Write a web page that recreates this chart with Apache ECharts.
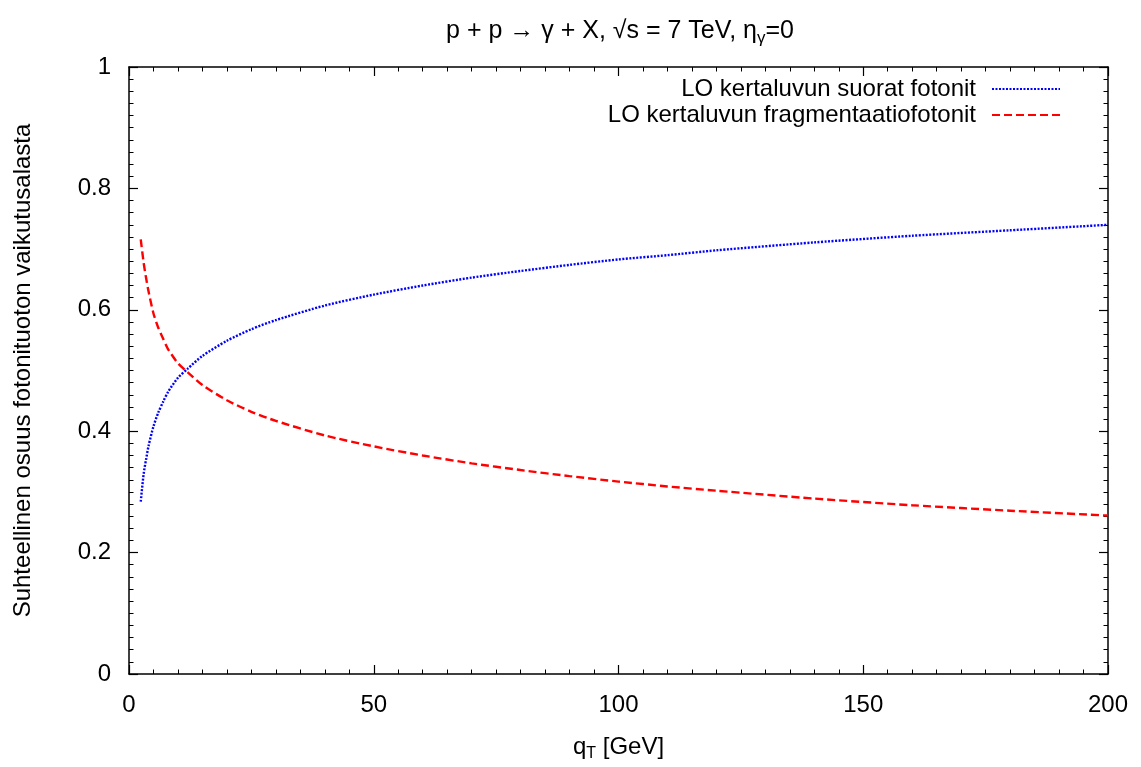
<!DOCTYPE html>
<html>
<head>
<meta charset="utf-8">
<script src="https://cdn.jsdelivr.net/npm/echarts@6/dist/echarts.min.js"></script>
<style>html,body{margin:0;padding:0;background:#fff;}#c{width:1141px;height:767px;}</style>
</head>
<body>
<div id="c"></div>
<script>
const qT = [2.4, 3, 3.5, 4, 5, 6, 7, 8, 10, 12, 15, 20, 25, 30, 40, 50, 60, 70, 80, 90, 100, 110, 120, 140, 160, 180, 200];
const direct = [0.284, 0.330, 0.354, 0.376, 0.408, 0.431, 0.449, 0.465, 0.488, 0.503, 0.524, 0.549, 0.568, 0.583, 0.607, 0.625, 0.640, 0.653, 0.664, 0.674, 0.683, 0.690, 0.698, 0.711, 0.722, 0.731, 0.740];
const frag = [0.716, 0.677, 0.652, 0.630, 0.594, 0.570, 0.552, 0.535, 0.512, 0.497, 0.476, 0.451, 0.432, 0.417, 0.393, 0.375, 0.360, 0.347, 0.336, 0.326, 0.317, 0.309, 0.302, 0.289, 0.278, 0.269, 0.261];
const xTicks = [0, 50, 100, 150, 200];
const yTicks = [0, 0.2, 0.4, 0.6, 0.8, 1];
const names = ['LO kertaluvun suorat fotonit', 'LO kertaluvun fragmentaatiofotonit'];

const font = 'Liberation Sans, Arial, Helvetica, sans-serif';
const FS = 24;
const chart = echarts.init(document.getElementById('c'), null, {renderer: 'canvas'});
const axisLine = {show: true, onZero: false, lineStyle: {color: '#000', width: 1.5}};
const tick = {show: true, inside: true, length: 9, lineStyle: {color: '#000', width: 1.2}};
const minor = {show: true, splitNumber: 10, length: 4.5, lineStyle: {color: '#000', width: 1}};
function xAx(pos, labels) {
  return {
    type: 'value', position: pos, min: xTicks[0], max: xTicks[xTicks.length - 1], interval: 50,
    axisLine: axisLine, axisTick: tick, minorTick: minor, splitLine: {show: false},
    axisLabel: {show: labels, margin: 19, fontSize: FS, color: '#000', fontFamily: font},
    name: labels ? '{a|q}{sub|T}{a| [GeV]}' : '', nameLocation: 'middle', nameGap: 58,
    nameTextStyle: {rich: {
      a: {fontSize: FS, fontFamily: font, color: '#000'},
      sub: {fontSize: 16, fontFamily: font, color: '#000', padding: [14, 0, 0, 0]}
    }}
  };
}
function yAx(pos, labels) {
  return {
    type: 'value', position: pos, min: yTicks[0], max: yTicks[yTicks.length - 1], interval: 0.2,
    axisLine: axisLine, axisTick: tick, minorTick: minor, splitLine: {show: false},
    axisLabel: {show: labels, margin: 18, fontSize: FS, color: '#000', fontFamily: font},
    name: labels ? 'Suhteellinen osuus fotonituoton vaikutusalasta' : '', nameLocation: 'middle', nameGap: 94,
    nameTextStyle: {fontSize: FS, fontFamily: font, color: '#000'}
  };
}
chart.setOption({
  animation: false,
  backgroundColor: '#fff',
  title: {
    text: '{a|p + p → γ + X, √s = 7 TeV, η}{sub|γ}{a|=0}',
    left: 615, textAlign: 'center', top: 11,
    textStyle: {fontWeight: 'normal', rich: {
      a: {fontSize: 25, fontFamily: font, color: '#000', fontWeight: 'normal'},
      sub: {fontSize: 17, fontFamily: font, color: '#000', fontWeight: 'normal', padding: [14, 0, 0, 0]}
    }}
  },
  grid: {left: 129, right: 33, top: 67, bottom: 81, containLabel: false},
  legend: {
    right: 75, top: 72, orient: 'vertical', align: 'right', itemWidth: 68, itemHeight: 20, itemGap: 2,
    itemStyle: {opacity: 0, color: 'transparent', borderWidth: 0},
    textStyle: {fontSize: FS, lineHeight: 20, fontFamily: font, color: '#000', padding: [0, 11, 0, 0]},
    data: names
  },
  xAxis: [xAx('bottom', true), xAx('top', false)],
  yAxis: [yAx('left', true), yAx('right', false)],
  series: [
    {name: names[0], type: 'line', smooth: 0.25, showSymbol: false, symbol: 'none', xAxisIndex: 0, yAxisIndex: 0,
     lineStyle: {color: '#0000ff', width: 2.4, type: [2, 1.5]}, itemStyle: {color: '#0000ff'},
     data: qT.map((x, i) => [x, direct[i]])},
    {name: names[1], type: 'line', smooth: 0.25, showSymbol: false, symbol: 'none', xAxisIndex: 0, yAxisIndex: 0,
     lineStyle: {color: '#ff0000', width: 2.4, type: [8, 4]}, itemStyle: {color: '#ff0000'},
     data: qT.map((x, i) => [x, frag[i]])}
  ]
});
</script>
</body>
</html>
